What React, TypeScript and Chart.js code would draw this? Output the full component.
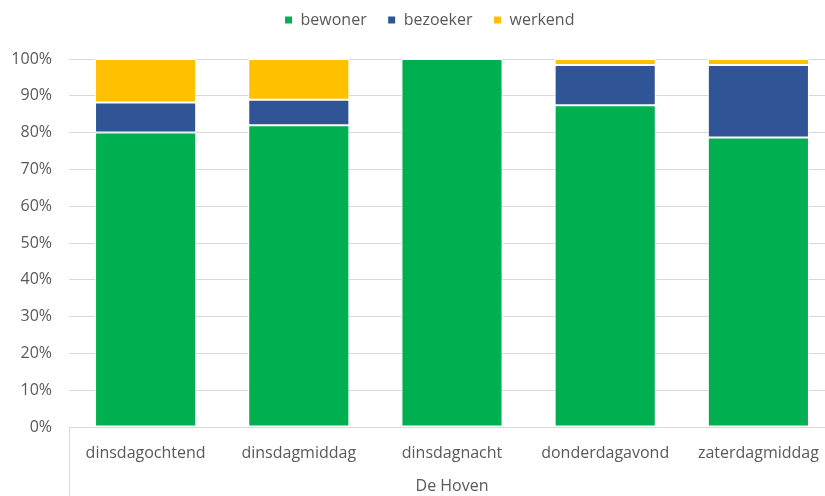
import React, { useEffect, useRef } from "react";
import { Chart, registerables } from "chart.js";

Chart.register(...registerables);

const categories = ["dinsdagochtend", "dinsdagmiddag", "dinsdagnacht", "donderdagavond", "zaterdagmiddag"];
const groupLabel = "De Hoven";
const bewoner = [80, 82, 100, 87.4, 78.7];
const bezoeker = [8.2, 6.9, 0, 11, 19.7];
const werkend = [11.8, 11.1, 0, 1.6, 1.6];
const seriesNames = ["bewoner", "bezoeker", "werkend"];
const seriesColors = ["#00B050", "#2F5597", "#FFC000"];

const FONT = "'Open Sans', sans-serif";
const TEXT = "#595959";
const GRID = "#D9D9D9";

const extrasPlugin = {
  id: "extras",
  afterLayout(chart: any) {
    const lg = chart.legend;
    if (lg) {
      lg.top -= 21;
      lg.bottom -= 21;
      lg.left += 12;
      lg.right += 12;
    }
  },
  afterDraw(chart: any) {
    const { ctx, chartArea, height } = chart;
    ctx.save();
    ctx.strokeStyle = GRID;
    ctx.lineWidth = 1;
    ctx.beginPath();
    const x = Math.round(chartArea.left) + 0.5;
    ctx.moveTo(x, chartArea.bottom);
    ctx.lineTo(x, height);
    ctx.stroke();
    ctx.restore();
  },
};

export default function App() {
  const ref = useRef<HTMLCanvasElement>(null);
  useEffect(() => {
    if (!ref.current) return;
    const data = [bewoner, bezoeker, werkend];
    const chart = new Chart(ref.current, {
      type: "bar",
      data: {
        labels: categories,
        datasets: seriesNames.map((n, i) => ({
          label: n,
          data: data[i],
          backgroundColor: seriesColors[i],
          borderColor: "#FFFFFF",
          borderWidth: 1,
          borderSkipped: false,
          barPercentage: 0.66,
          categoryPercentage: 1,
        })),
      },
      options: {
        responsive: false,
        animation: false,
        maintainAspectRatio: false,
        layout: { padding: { left: 0, right: 25, top: 12, bottom: 0 } },
        plugins: {
          tooltip: { enabled: false },
          legend: {
            position: "top",
            labels: {
              boxWidth: 8,
              boxHeight: 8,
              padding: 21,
              color: TEXT,
              font: { family: FONT, size: 16 },
            },
          },
        },
        scales: {
          x: {
            stacked: true,
            grid: { display: false, drawTicks: false },
            border: { display: true, color: GRID },
            ticks: { color: TEXT, font: { family: FONT, size: 16 }, padding: 17, maxRotation: 0 },
            title: {
              display: true,
              text: groupLabel,
              color: TEXT,
              font: { family: FONT, size: 16 },
              padding: { top: 0, bottom: 0 },
            },
            afterFit(scale: any) {
              scale.height = 69;
            },
          },
          y: {
            stacked: true,
            min: 0,
            max: 100,
            grid: { color: GRID, drawTicks: false },
            border: { display: false },
            ticks: {
              stepSize: 10,
              color: TEXT,
              font: { family: FONT, size: 16 },
              padding: 17,
              callback: (v: any) => v + "%",
            },
            afterFit(scale: any) {
              scale.width = 69;
            },
          },
        },
      },
      plugins: [extrasPlugin],
    });
    return () => chart.destroy();
  }, []);
  return (
    <div style={{ position: "fixed", left: 0, top: 0, width: 825, height: 496, overflow: "hidden", background: "#fff" }}>
      <canvas ref={ref} width={860} height={496} style={{ display: "block", width: 860, height: 496 }} />
    </div>
  );
}
